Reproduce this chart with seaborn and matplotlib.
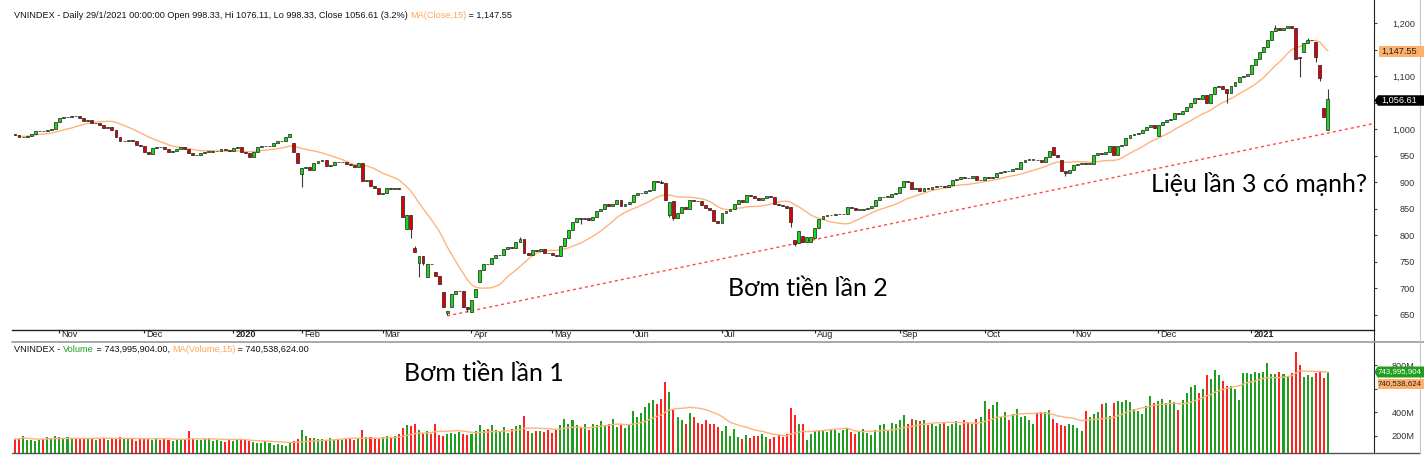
import numpy as np
import pandas as pd
import matplotlib
matplotlib.use("Agg")
import matplotlib.pyplot as plt
import seaborn as sns
from matplotlib.patches import Polygon
from matplotlib.lines import Line2D
from matplotlib.transforms import ScaledTranslation

# ---------------- data ----------------
close_oct19 = [989, 985, 986, 988, 992, 996, 997, 996, 999, 1001, 1014]
close_nov19 = [1021, 1023, 1024, 1026, 1025, 1021, 1016, 1017, 1011, 1012, 1009, 1002, 1004, 999, 986, 977, 977, 979, 978, 970, 969]
close_dec19 = [958, 953, 964, 967, 966, 962, 958, 960, 963, 967, 962, 955, 951, 952, 955, 958, 958, 959, 959, 962, 961, 959]
close_jan20 = [964, 967, 957, 955, 948, 958, 967, 968, 968, 969, 974, 977, 978, 985, 991, 958, 936]
close_feb20 = [927, 928, 924, 937, 940, 942, 931, 932, 939, 938, 938, 934, 932, 929, 937, 903, 905, 893, 890, 877]
close_mar20 = [880, 889, 887, 890, 888, 835, 838, 812, 768, 760, 748, 746, 745, 724, 709, 664, 658, 690, 694, 695, 664, 660]
close_apr20 = [678, 698, 735, 746, 745, 758, 762, 762, 774, 777, 776, 788, 793, 766, 762, 773, 770, 775, 767, 766]
close_may20 = [762, 761, 780, 794, 810, 826, 833, 830, 832, 829, 835, 845, 850, 860, 855, 860, 867, 856, 860, 863]
close_jun20 = [876, 879, 880, 884, 886, 903, 900, 898, 866, 863, 832, 842, 854, 850, 866, 865, 864, 857, 851, 848, 827, 824]
close_jul20 = [843, 846, 849, 860, 866, 862, 876, 874, 870, 866, 871, 874, 873, 860, 858, 855, 852, 826, 783, 808, 788, 796, 797]
close_aug20 = [813, 830, 836, 838, 838, 840, 840, 841, 853, 851, 848, 848, 850, 851, 855, 866, 872, 873, 873, 878, 880]
close_sep20 = [892, 903, 901, 888, 889, 884, 889, 888, 892, 893, 893, 891, 895, 905, 906, 910, 909, 908, 911, 904, 905]
close_oct20 = [910, 908, 910, 917, 919, 922, 921, 926, 926, 939, 943, 943, 943, 942, 938, 948, 960, 952, 948, 921, 917, 923]
close_nov20 = [933, 935, 936, 935, 935, 951, 955, 954, 958, 968, 952, 968, 971, 983, 989, 992, 993, 998, 1004, 1008, 1002]
close_dec20 = [1008, 1013, 1017, 1020, 1030, 1028, 1035, 1043, 1050, 1060, 1057, 1065, 1050, 1067, 1080, 1082, 1077, 1068, 1082, 1090, 1099, 1101, 1104]
close_jan21 = [1121, 1132, 1145, 1156, 1168, 1186, 1191, 1187, 1191, 1195, 1192, 1132, 1134, 1163, 1168, 1169, 1137, 1096, 1023.9, 1056.61]

# opens that differ from the previous close (gaps), candle index -> open
gap_opens = {69: 974, 70: 955, 71: 916, 96: 874, 97: 811, 99: 776, 100: 748, 102: 722, 104: 731,
             106: 693, 107: 653, 108: 665, 113: 656, 114: 684, 115: 712, 162: 838, 163: 865,
             192: 853, 193: 792, 194: 786, 195: 798, 197: 788, 198: 794, 257: 967, 259: 943,
             283: 987, 317: 1191, 318: 1137, 319: 1146, 322: 1165, 323: 1121, 324: 1041, 325: 998.33}
wick_lows = {71: 892, 98: 795, 100: 722, 101: 744, 107: 650, 112: 655, 140: 822, 162: 835, 163: 828,
             192: 816, 193: 780, 260: 912, 300: 1050, 318: 1099, 322: 1127, 323: 1092}
wick_highs = {99: 780, 125: 797, 160: 904, 312: 1196, 320: 1172, 325: 1076.11}

vol_oct19 = [170, 175, 200, 165, 160, 158, 162, 170, 185, 180, 195]
vol_nov19 = [190, 172, 185, 168, 175, 180, 178, 176, 182, 165, 170, 178, 160, 182, 175, 190, 180, 172, 178, 158, 170]
vol_dec19 = [175, 170, 165, 182, 165, 170, 160, 155, 165, 172, 170, 240, 175, 165, 162, 170, 176, 150, 160, 150, 145, 162]
vol_jan20 = [150, 165, 160, 172, 150, 148, 140, 135, 150, 140, 120, 125, 118, 110, 135, 150, 175]
vol_feb20 = [247, 200, 178, 182, 170, 175, 160, 178, 165, 170, 160, 172, 168, 165, 175, 247, 190, 185, 180, 175]
vol_mar20 = [190, 195, 185, 200, 210, 267, 290, 280, 298, 245, 220, 235, 210, 300, 205, 200, 215, 220, 210, 230, 215, 205]
vol_apr20 = [215, 235, 290, 245, 260, 290, 250, 240, 270, 225, 260, 280, 290, 366, 240, 225, 235, 240, 230, 245]
vol_may20 = [220, 245, 290, 338, 295, 335, 290, 265, 295, 250, 295, 290, 320, 290, 300, 340, 270, 290, 265, 300]
vol_jun20 = [409, 360, 395, 446, 480, 503, 470, 512, 659, 574, 430, 360, 330, 300, 390, 355, 310, 300, 330, 300, 295, 270]
vol_jul20 = [240, 285, 200, 255, 190, 175, 205, 180, 195, 200, 215, 185, 170, 190, 205, 185, 210, 432, 375, 300, 295, 160, 210]
vol_aug20 = [240, 250, 235, 230, 255, 245, 220, 250, 265, 230, 215, 240, 255, 225, 205, 250, 290, 300, 240, 310, 300]
vol_sep20 = [330, 375, 300, 340, 330, 320, 330, 290, 300, 280, 295, 310, 285, 300, 320, 290, 330, 315, 300, 340, 355]
vol_oct20 = [494, 430, 460, 490, 360, 400, 330, 380, 430, 360, 370, 330, 300, 390, 400, 400, 420, 340, 310, 290, 280, 300]
vol_nov20 = [290, 265, 240, 410, 360, 380, 400, 470, 480, 370, 480, 495, 490, 500, 485, 430, 410, 380, 455, 536, 480]
vol_dec20 = [495, 510, 480, 505, 485, 420, 500, 560, 617, 631, 560, 600, 716, 680, 758, 716, 664, 620, 625, 600, 500, 730, 735]
vol_jan21 = [720, 745, 735, 740, 815, 720, 720, 740, 720, 700, 730, 914, 801, 700, 716, 700, 735, 740, 693, 743.995904]

month_labels = ["Nov", "Dec", "2020", "Feb", "Mar", "Apr", "May", "Jun", "Jul", "Aug", "Sep", "Oct", "Nov", "Dec", "2021"]
month_start_idx = [11, 32, 54, 71, 91, 113, 133, 153, 175, 198, 219, 240, 262, 283, 306]
price_ticks = [650, 700, 750, 800, 850, 900, 950, 1000, 1050, 1100, 1150, 1200]
price_hidden_labels = [1050, 1150]          # covered by the value boxes in the reference
volume_ticks_m = [200, 400, 600, 800]
volume_hidden_labels = [600]
trend_idx = [107, 336.4]
trend_val = [648, 1011]

# ---------------- assemble ----------------
closes = np.array(close_oct19 + close_nov19 + close_dec19 + close_jan20 + close_feb20 + close_mar20 +
                  close_apr20 + close_may20 + close_jun20 + close_jul20 + close_aug20 + close_sep20 +
                  close_oct20 + close_nov20 + close_dec20 + close_jan21, dtype=float)
vols = np.array(vol_oct19 + vol_nov19 + vol_dec19 + vol_jan20 + vol_feb20 + vol_mar20 + vol_apr20 +
                vol_may20 + vol_jun20 + vol_jul20 + vol_aug20 + vol_sep20 + vol_oct20 + vol_nov20 +
                vol_dec20 + vol_jan21, dtype=float) * 1e6
n = len(closes)
assert len(vols) == n, (len(vols), n)
idx = np.arange(n)
opens = np.concatenate([[closes[0] + 2], closes[:-1]])
for k, v in gap_opens.items():
    opens[k] = v
highs = np.maximum(opens, closes)
lows = np.minimum(opens, closes)
for k, v in wick_highs.items():
    highs[k] = v
for k, v in wick_lows.items():
    lows[k] = v
up = closes >= opens
df = pd.DataFrame({"i": idx, "close": closes, "vol": vols})
df["ma"] = df["close"].rolling(15, min_periods=1).mean()
df["vma"] = df["vol"].rolling(15, min_periods=1).mean()

# ---------------- figure ----------------
sns.set_theme(style="white")
plt.rcParams["font.family"] = ["Liberation Sans", "DejaVu Sans"]
W, H = 1424, 463
fig = plt.figure(figsize=(W / 100, H / 100), dpi=100)
fig.patch.set_facecolor("white")

def fx(x):
    return x / W

def fy(y):
    return 1 - y / H

def rect(x0, y0, x1, y1):
    return [x0 / W, 1 - y1 / H, (x1 - x0) / W, (y1 - y0) / H]

ax = fig.add_axes(rect(12, 0, 1374, 330))
axv = fig.add_axes(rect(12, 342, 1374, 453))

XL = (-0.74, 336.4)
# price panel
ax.vlines(idx, lows, highs, color="#3a3a3a", lw=0.8, zorder=2)
body_lo = np.minimum(opens, closes)
body_h = np.maximum(np.abs(closes - opens), 0.9)
ax.bar(idx, body_h, bottom=body_lo, width=0.72,
       color=np.where(up, "#18D818", "#E00000"), edgecolor="#202020", linewidth=0.5, zorder=3)
sns.lineplot(data=df, x="i", y="ma", ax=ax, color="#FFB37C", linewidth=1.0, estimator=None, zorder=1)
ax.plot(trend_idx, trend_val, color="#FF4A4A", lw=1.0, ls=(0, (2.2, 2.2)), zorder=1)
ax.set_xlim(*XL)
ax.set_ylim(621.3, 1244)
ax.set_xlabel("")
ax.set_ylabel("")
ax.yaxis.tick_right()
ax.set_yticks(price_ticks)
ax.set_yticklabels(["" if v in price_hidden_labels else f"{v:,}" for v in price_ticks])
ax.tick_params(axis="y", which="both", direction="out", length=2.5, width=0.8, color="#444",
               labelsize=6.6, labelcolor="#333", pad=27, right=True, left=False)
for lab in ax.get_yticklabels():
    lab.set_horizontalalignment("right")
ax.set_xticks(month_start_idx)
ax.set_xticklabels(month_labels)
ax.tick_params(axis="x", direction="out", length=2.5, width=0.8, color="#222",
               labelsize=6.6, labelcolor="#222", pad=-2.2, bottom=True)
for lab in ax.get_xticklabels():
    lab.set_horizontalalignment("left")
    lab.set_transform(lab.get_transform() + ScaledTranslation(2 / 100, 0, fig.dpi_scale_trans))
    if lab.get_text() in ("2020", "2021"):
        lab.set_fontweight("bold")
for s in ["top", "left"]:
    ax.spines[s].set_visible(False)
ax.spines["right"].set_color("#222")
ax.spines["right"].set_linewidth(0.8)
ax.spines["bottom"].set_color("#222")
ax.spines["bottom"].set_linewidth(1.0)
ax.grid(False)

# volume panel
axv.bar(idx, vols, width=0.5, color=np.where(up, "#1F9E1F", "#FF2222"), linewidth=0, zorder=2)
sns.lineplot(data=df, x="i", y="vma", ax=axv, color="#FFB37C", linewidth=1.0, estimator=None, zorder=3)
axv.set_xlim(*XL)
axv.set_ylim(51.9e6, 996.6e6)
axv.set_xlabel("")
axv.set_ylabel("")
axv.set_xticks([])
axv.yaxis.tick_right()
axv.set_yticks([v * 1e6 for v in volume_ticks_m])
axv.set_yticklabels(["" if v in volume_hidden_labels else f"{v}M" for v in volume_ticks_m])
axv.tick_params(axis="y", direction="out", length=2.5, width=0.8, color="#444",
                labelsize=6.6, labelcolor="#333", pad=27, right=True, left=False)
for lab in axv.get_yticklabels():
    lab.set_horizontalalignment("right")
for s in ["top", "left", "bottom"]:
    axv.spines[s].set_visible(False)
axv.spines["right"].set_color("#222")
axv.spines["right"].set_linewidth(0.8)
axv.grid(False)

# frame lines
fig.add_artist(Line2D([fx(1374), fx(1374)], [fy(330), fy(342)], color="#222", lw=0.8))
fig.add_artist(Line2D([fx(12), fx(1424)], [fy(342), fy(342)], color="#9a9a9a", lw=1.2))
fig.add_artist(Line2D([fx(12), fx(1420)], [fy(453), fy(453)], color="#555", lw=1.0))
fig.add_artist(Line2D([fx(1420), fx(1420)], [fy(0), fy(453)], color="#c8c8c8", lw=0.8))

# header texts
renderer = fig.canvas.get_renderer()

def rich(x, y, parts, size=6.6):
    for s, c in parts:
        t = fig.text(fx(x), fy(y), s, color=c, fontsize=size, va="center", ha="left")
        x += t.get_window_extent(renderer).width

ORANGE = "#FFA658"
rich(14, 15, [("VNINDEX - Daily 29/1/2021 00:00:00 Open 998.33, Hi 1076.11, Lo 998.33, Close 1056.61 (3.2%) ", "#111"),
              ("MA(Close,15)", ORANGE), (" = 1,147.55", "#111")])
rich(14, 349, [("VNINDEX - ", "#111"), ("Volume", "#1F9E1F"), (" = 743,995,904.00, ", "#111"),
               ("MA(Volume,15)", ORANGE), (" = 740,538,624.00", "#111")])

# value boxes on the right axis
def box(yc, text, face, tc, arrow, x0=1378, x1=1424, h=10.5, size=6.6, center=True):
    if arrow:
        pts = [(1374.5, yc), (x0, yc - h / 2), (x1, yc - h / 2), (x1, yc + h / 2), (x0, yc + h / 2)]
    else:
        pts = [(x0, yc - h / 2), (x1, yc - h / 2), (x1, yc + h / 2), (x0, yc + h / 2)]
    fig.add_artist(Polygon([(fx(a), fy(b)) for a, b in pts], closed=True, transform=fig.transFigure,
                           facecolor=face, edgecolor="none", zorder=10))
    if center:
        fig.text(fx((x0 + 1420) / 2), fy(yc), text, color=tc, fontsize=size, va="center", ha="center", zorder=11)
    else:
        fig.text(fx(x0 + 0.5), fy(yc), text, color=tc, fontsize=size, va="center", ha="left", zorder=11)

box(51.5, "1,147.55", "#FFB06A", "#222", False, x0=1379)
box(100.5, "1,056.61", "#000000", "white", True, x0=1378)
box(372, "743,995,904", "#1F9E1F", "white", True, x0=1377.5, h=11, size=5.7, center=False)
box(384, "740,538,624", "#FFB06A", "#222", False, x0=1377.5, h=9.5, size=5.7, center=False)

# annotations
big = dict(fontsize=18, color="black", va="baseline", ha="left", family=["Lato", "Noto Sans", "DejaVu Sans"])
fig.text(fx(1151), fy(192), "Liệu lần 3 có mạnh?", **big)
fig.text(fx(728), fy(296), "Bơm tiền lần 2", **big)
fig.text(fx(404), fy(381), "Bơm tiền lần 1", **big)

fig.savefig("out.png", dpi=100)
